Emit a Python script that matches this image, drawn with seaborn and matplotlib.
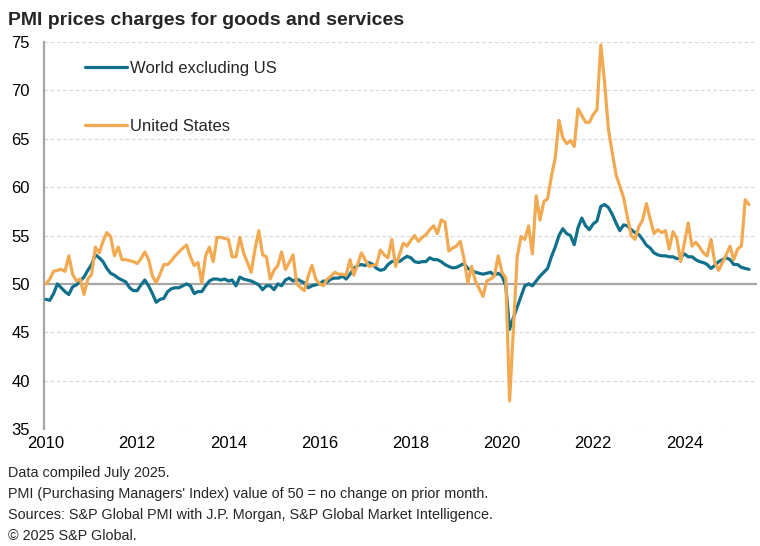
import numpy as np
import pandas as pd
import seaborn as sns
import matplotlib.pyplot as plt

# --- data (monthly Jan 2010 - Jun 2025) ---
world_ex_us = [
    48.4, 48.3, 49.0, 50.0, 49.6, 49.2, 48.9, 49.7, 49.9, 50.3, 50.7, 51.4,   # 2010
    52.0, 53.0, 52.7, 52.3, 51.6, 51.1, 50.9, 50.6, 50.4, 50.2, 49.6, 49.3,   # 2011
    49.3, 49.9, 50.4, 49.8, 49.0, 48.1, 48.4, 48.5, 49.2, 49.5, 49.6, 49.6,   # 2012
    49.8, 50.0, 49.8, 49.0, 49.2, 49.2, 49.8, 50.3, 50.5, 50.5, 50.4, 50.5,   # 2013
    50.3, 50.4, 49.8, 50.7, 50.5, 50.4, 50.3, 50.1, 49.9, 49.4, 49.8, 49.8,   # 2014
    49.4, 50.0, 49.8, 50.4, 50.6, 50.3, 50.5, 50.3, 50.1, 49.6, 49.8, 49.9,   # 2015
    50.0, 50.3, 50.2, 50.5, 50.6, 50.6, 50.8, 50.5, 51.0, 51.6, 51.9, 52.0,   # 2016
    51.9, 52.2, 52.0, 51.6, 51.4, 51.5, 52.0, 52.3, 52.4, 52.3, 52.6, 52.85,  # 2017
    52.7, 52.3, 52.2, 52.3, 52.3, 52.7, 52.5, 52.5, 52.3, 52.0, 51.8, 51.65,  # 2018
    51.7, 51.9, 52.1, 51.6, 51.4, 51.2, 51.1, 51.0, 51.1, 51.2, 50.9, 51.1,   # 2019
    50.8, 49.8, 45.3, 46.5, 47.6, 48.7, 49.8, 50.0, 49.8, 50.3, 50.8, 51.2,   # 2020
    51.6, 52.8, 53.8, 55.0, 55.7, 55.2, 55.0, 54.05, 55.8, 56.8, 56.0, 55.6,  # 2021
    56.2, 56.5, 58.0, 58.2, 57.9, 57.2, 56.3, 55.5, 56.1, 56.0, 55.6, 55.3,   # 2022
    55.1, 54.6, 54.0, 53.7, 53.2, 53.0, 52.9, 52.9, 52.8, 52.8, 52.6, 52.7,   # 2023
    53.1, 52.8, 52.8, 52.5, 52.3, 52.2, 52.0, 51.6, 51.9, 52.3, 52.5, 52.7,   # 2024
    52.5, 52.0, 52.0, 51.7, 51.6, 51.5,                                       # 2025
]
united_states = [
    50.0, 50.5, 51.3, 51.4, 51.5, 51.3, 52.9, 51.0, 50.3, 50.5, 48.9, 50.5,   # 2010
    51.0, 53.8, 53.2, 54.4, 55.3, 54.9, 52.9, 53.8, 52.5, 52.5, 52.4, 52.3,   # 2011
    52.1, 52.6, 53.3, 52.5, 50.8, 50.1, 51.0, 52.0, 52.0, 52.4, 52.9, 53.3,   # 2012
    53.7, 54.0, 52.8, 51.9, 52.2, 50.1, 52.9, 53.8, 52.3, 54.8, 54.8, 54.7,   # 2013
    54.6, 52.8, 52.8, 54.8, 53.2, 52.2, 51.2, 53.6, 55.5, 53.0, 52.8, 50.5,   # 2014
    51.4, 51.9, 53.3, 51.5, 52.2, 53.0, 50.0, 49.6, 49.3, 50.8, 51.9, 50.5,   # 2015
    50.0, 49.8, 50.5, 50.8, 51.2, 51.0, 51.0, 50.9, 52.5, 50.9, 52.0, 53.2,   # 2016
    52.5, 51.8, 51.9, 52.0, 53.5, 53.0, 52.7, 54.6, 51.8, 53.0, 54.2, 53.9,   # 2017
    54.5, 55.0, 54.4, 54.8, 55.1, 55.6, 56.0, 55.2, 56.6, 56.4, 53.4, 53.7,   # 2018
    53.9, 54.4, 52.6, 50.1, 51.8, 50.3, 49.5, 48.7, 50.3, 50.5, 50.8, 52.9,   # 2019
    51.2, 50.6, 37.9, 45.3, 52.8, 54.9, 54.6, 56.0, 53.1, 59.1, 56.6, 58.5,   # 2020
    58.8, 61.1, 63.0, 66.9, 65.1, 64.5, 64.8, 64.2, 68.1, 67.4, 66.7, 66.7,   # 2021
    67.5, 68.0, 74.7, 70.8, 66.0, 63.6, 61.3, 60.1, 58.9, 56.9, 55.0, 54.6,   # 2022
    55.9, 56.6, 58.3, 56.7, 55.2, 55.6, 55.3, 55.5, 53.6, 55.4, 54.7, 52.3,   # 2023
    54.2, 56.3, 53.9, 54.3, 53.8, 53.2, 52.9, 54.6, 52.2, 51.4, 52.2, 53.0,   # 2024
    53.9, 52.5, 53.6, 53.9, 58.7, 58.2,                                       # 2025
]
series_names = ['World excluding US', 'United States']
series_colors = ['#11708B', '#F2AA52']
year_ticks = [2010, 2012, 2014, 2016, 2018, 2020, 2022, 2024]
y_ticks = [35, 40, 45, 50, 55, 60, 65, 70, 75]

title = 'PMI prices charges for goods and services'
footer = [
    'Data compiled July 2025.',
    "PMI (Purchasing Managers' Index) value of 50 = no change on prior month.",
    'Sources: S&P Global PMI with J.P. Morgan, S&P Global Market Intelligence.',
    '\u00a9 2025 S&P Global.',
]

dates = pd.date_range('2010-01-01', periods=len(world_ex_us), freq='MS')
t = dates.year + (dates.month - 1) / 12

df = pd.DataFrame({
    't': np.concatenate([t, t]),
    'value': world_ex_us + united_states,
    'series': [series_names[0]] * len(t) + [series_names[1]] * len(t),
})

# --- plot ---
sns.set_style('white')
plt.rcParams['font.family'] = ['Liberation Sans', 'DejaVu Sans']

fig = plt.figure(figsize=(7.6, 5.46), dpi=100)
ax = fig.add_axes([44 / 760, 1 - 429 / 546, 713 / 760, 387 / 546])

for yv in y_ticks:
    if yv == 50:
        ax.axhline(yv, color='#A6A6A6', lw=1.6, zorder=1)
    else:
        ax.axhline(yv, color='#D9D9D9', lw=0.9, ls=(0, (3, 2)), zorder=0)

sns.lineplot(data=df, x='t', y='value', hue='series', hue_order=series_names,
             palette=series_colors, linewidth=2.3, ax=ax, zorder=3)

ax.set_xlim(2010 - 2 / 45.6, 2010 + 711 / 45.6)
ax.set_ylim(35, 75)
ax.set_xticks(year_ticks)
ax.set_xticklabels([str(y) for y in year_ticks])
ax.set_yticks(y_ticks)
ax.set_xlabel('')
ax.set_ylabel('')
ax.tick_params(axis='both', length=0, labelsize=12, colors='#000000')
ax.tick_params(axis='y', pad=10)
ax.tick_params(axis='x', pad=5)

for s in ['top', 'right', 'bottom']:
    ax.spines[s].set_visible(False)
ax.spines['left'].set_color('#A6A6A6')
ax.spines['left'].set_linewidth(1.6)

ax.legend(loc='upper left', bbox_to_anchor=(0.037, 0.99), frameon=False,
          fontsize=12, handlelength=2.5, handletextpad=0.18, labelspacing=2.6)

fig.text(8 / 760, 1 - 25 / 546, title, fontsize=14, fontweight='bold', va='baseline')
for k, line in enumerate(footer):
    fig.text(8 / 760, 1 - (477 + 21 * k) / 546, line, fontsize=10.4, va='baseline')

fig.savefig('out.png', dpi=100)
